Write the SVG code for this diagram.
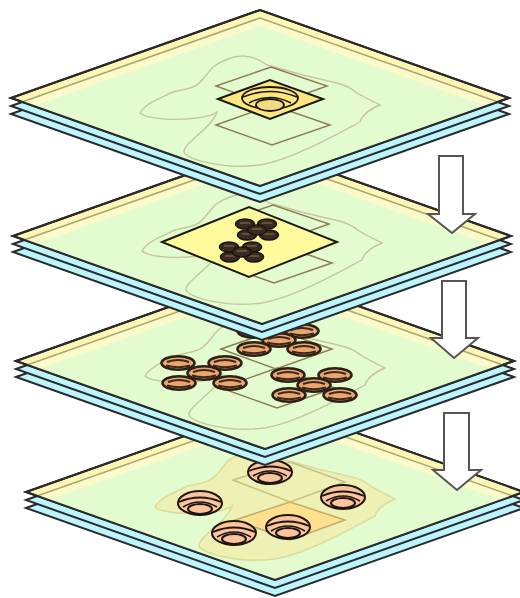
<svg xmlns="http://www.w3.org/2000/svg" xmlns:xlink="http://www.w3.org/1999/xlink" width="520" height="598" viewBox="0 0 520 598">
<style>
.edge{stroke:#2a2a2a;stroke-width:2;stroke-linejoin:miter}
.blue{fill:#bdf5ff}
.yel{fill:#fdf6b4}
.pale{fill:#fbfacb}
.green{fill:#e2fccf}
.tan{fill:none;stroke:#aaa672;stroke-width:1.5}
.blob{fill:none;stroke:#c6c69e;stroke-width:1.4}
.blobf{fill:#eef0b4;stroke:#dcdc9c;stroke-width:1.6}
.dia{fill:none;stroke:#8e7d55;stroke-width:1.5}
.ov{fill:#eba56e;stroke:#2c2016;stroke-width:2.6}
.ovi{fill:none;stroke:#3a2a1c;stroke-width:2}
.cup{fill:#fcc49c;stroke:#1c1510;stroke-width:2}
.arr{fill:#fff;stroke:#555;stroke-width:2;stroke-linejoin:miter}
</style>
<defs>
<g id="plate">
<polygon class="blue edge" points="-249,16 0,-72 249,16 0,104"/>
<polygon class="blue edge" points="-249,8 0,-80 249,8 0,96"/>
<polygon class="yel edge" points="-249,0 0,-88 249,0 0,88"/>
<polygon class="pale" points="-238,4 0,-80 238,4 0,88"/>
<polyline class="tan" points="-238,4 0,-80 238,4"/>
<polygon class="green" points="-226,8 0,-72 226,8 0,88"/>
<polygon fill="none" class="edge" points="-249,0 0,-88 249,0 0,88"/>
</g>
<path id="outline" d="M-120,15 C-113,21 -87,23 -63,20 C-55,19 -47,17 -43,14 C-48,30 -77,45 -76,54 C-75,60 -40,72 0,67 C30,62 70,40 100,24 C102,17 108,12 120,7 C110,2 102,-2 97,-5 C90,-11 85,-13 77,-15 L43,-23 L7,-33 C0,-38 -8,-42 -17,-42 C-30,-42 -40,-36 -47,-31 C-55,-22 -60,-13 -67,-11 C-75,-8 -80,-8 -87,-6 C-97,-1 -115,5 -120,15 Z"/>
<g id="squares">
<polygon class="dia" points="-44,-12 11,-31 67,-12 11,8"/>
<polygon class="dia" points="-44,27 12,7 70,27 12,47"/>
</g>
<g id="oval">
<ellipse class="ov" rx="16.5" ry="6.8"/>
<path class="ovi" d="M-11,-1 Q0,-5 11,-1"/>
<path class="ovi" d="M-12,2.5 Q0,6 12,2.5"/>
</g>
<g id="mini">
<ellipse fill="#3a2a20" stroke="#1c1510" stroke-width="1.6" rx="9.5" ry="5"/>
<path fill="none" stroke="#8a7458" stroke-width="1" d="M-5,-1 H5"/>
</g>
<g id="cup">
<ellipse class="cup" rx="22" ry="12"/>
<path fill="none" stroke="#1c1510" stroke-width="1.8" d="M-21,-1 Q0,-10 21,-1"/>
<path fill="none" stroke="#1c1510" stroke-width="1.6" d="M-17,4 Q0,-6 17,4"/>
<ellipse class="cup" cy="6" rx="12" ry="5"/>
</g>
</defs>

<g id="layer4">
<use href="#plate" x="275" y="492"/>
<use href="#outline" x="275" y="492" class="blobf"/>
<polygon fill="#ffe08f" stroke="#c0ae68" stroke-width="1.5" points="235,520 290,502 345,520 290,540"/>
<polygon fill="none" stroke="#c4c084" stroke-width="1.4" points="233,480 290,462 345,482 290,502"/>
<use href="#cup" x="270" y="472"/>
<use href="#cup" x="200" y="503"/>
<use href="#cup" x="343" y="497"/>
<use href="#cup" x="234" y="533"/>
<use href="#cup" x="288" y="527"/>
</g>

<g id="arrow3"><polygon class="arr" points="444,413 469,413 469,470 481,470 457,490 433,470 444,470"/></g>

<g id="layer3">
<use href="#plate" x="265" y="361"/>
<use href="#outline" x="265" y="361" class="blob"/>
<use href="#squares" x="265" y="361"/>
<use href="#oval" x="178" y="363"/><use href="#oval" x="225" y="363"/><use href="#oval" x="179" y="383"/><use href="#oval" x="230" y="383"/><use href="#oval" x="204" y="373"/>
<use href="#oval" x="288" y="375"/><use href="#oval" x="335" y="375"/><use href="#oval" x="289" y="395"/><use href="#oval" x="340" y="395"/><use href="#oval" x="314" y="385"/>
<use href="#oval" x="254" y="331"/><use href="#oval" x="302" y="331"/><use href="#oval" x="254" y="349"/><use href="#oval" x="304" y="349"/><use href="#oval" x="279" y="340"/>
</g>

<g id="arrow2"><polygon class="arr" points="442,281 466,281 466,338 478,338 454,358 431,338 442,338"/></g>

<g id="layer2">
<use href="#plate" x="262" y="236"/>
<use href="#outline" x="262" y="236" class="blob"/>
<use href="#squares" x="262" y="236"/>
<polygon fill="#fffb9c" stroke="#1c1a10" stroke-width="2" points="162,242 249,207 337,242 249,277"/>
<path fill="none" stroke="#2a2018" stroke-width="2.6" d="M245,224 L269,235 M267,224 L247,235 M229,247 L254,257 M252,247 L230,257"/>
<use href="#mini" x="245" y="224"/><use href="#mini" x="267" y="224"/><use href="#mini" x="247" y="235"/><use href="#mini" x="269" y="235"/><use href="#mini" x="257" y="230"/>
<use href="#mini" x="229" y="247"/><use href="#mini" x="252" y="247"/><use href="#mini" x="230" y="257"/><use href="#mini" x="254" y="257"/><use href="#mini" x="242" y="252"/>
</g>

<g id="arrow1"><polygon class="arr" points="439,156 463,156 463,214 475,214 452,233 428,214 439,214"/></g>

<g id="layer1">
<use href="#plate" x="260" y="98"/>
<use href="#outline" x="260" y="98" class="blob"/>
<use href="#squares" x="260" y="98"/>
<polygon fill="#ffe77f" stroke="#1c1a10" stroke-width="2" points="218,99 270,80 323,99 270,119"/>
<ellipse cx="270" cy="98" rx="28" ry="11" fill="#ffe77f" stroke="#1c1510" stroke-width="1.8"/>
<path fill="none" stroke="#1c1510" stroke-width="1.6" d="M243,97 Q270,86 297,97 M249,103 Q270,92 291,103"/>
<ellipse cx="270" cy="105" rx="14" ry="6" fill="#f2dc80" stroke="#1c1510" stroke-width="1.8"/>
</g>
</svg>
